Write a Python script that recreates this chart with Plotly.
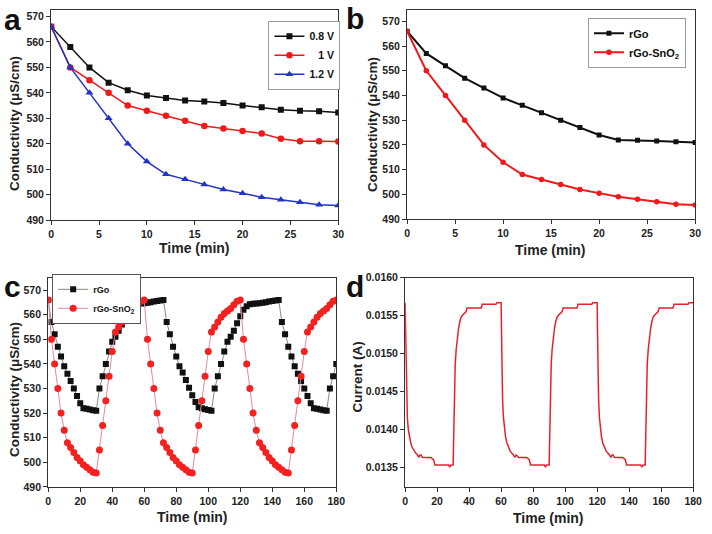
import plotly.graph_objects as go

FONT = "Arial, Liberation Sans, sans-serif"
W, H = 712, 534

# ---------------- data ----------------
# panel a
time_a = [0, 2, 4, 6, 8, 10, 12, 14, 16, 18, 20, 22, 24, 26, 28, 30]
cond_08v = [566, 558, 550, 544, 541, 539, 538, 537, 536.6, 536, 535, 534.3, 533.4, 533, 532.8, 532.3]
cond_1v = [566, 550, 545, 540, 535, 533, 531, 529, 527, 526, 525, 524, 522, 521, 521, 520.9]
cond_12v = [566, 550, 540, 530, 520, 513, 508, 506, 504, 502, 500.5, 499, 498, 497, 496, 495.7]
series_a_names = ["0.8 V", "\u00a0\u00a0\u00a01 V", "1.2 V"]

# panel b
time_b = [0, 2, 4, 6, 8, 10, 12, 14, 16, 18, 20, 22, 24, 26, 28, 30]
cond_rgo_b = [566, 557, 552, 547, 543, 539, 536, 533, 530, 527, 524, 522, 521.9, 521.6, 521.3, 521]
cond_sno2_b = [566, 550, 540, 530, 520, 513, 508, 506, 504, 502, 500.5, 499, 498, 497, 496, 495.7]

# panel c (every 2 min, 0..180)
time_c = list(range(0, 182, 2))
cond_rgo_c = [
    566, 557, 552, 547, 543, 539, 536, 533, 530, 527, 524, 522, 521.8, 521.5, 521.2, 521,
    530, 535, 540, 545, 549, 551, 553.5, 556, 558.5, 560.5, 562, 563, 564, 564.5, 564.6, 564.8, 565, 565.3, 565.6, 565.8, 566,
    557, 552, 547, 543, 539, 536.5, 533.5, 530.3, 527.3, 524.5, 522.4, 522, 521.6, 521.3, 521,
    530, 535, 540, 545, 549, 551, 553.5, 556.5, 559.4, 562, 563.4, 564.2, 564.4, 564.5, 564.6, 564.8, 565, 565.3, 565.6, 565.8, 566,
    557, 552, 547, 543, 539, 536, 533, 530, 527, 524, 522, 521.8, 521.5, 521.2, 521,
    530, 535, 540,
]
cond_sno2_c = [
    566, 550, 540, 530, 520, 513, 508, 506, 504, 502, 500.5, 499, 498, 497, 496, 495.7,
    505, 515, 525, 535, 545, 553, 555, 557, 559, 560.5, 561.5, 562.5, 564, 565.5, 566,
    550, 540, 530, 520, 513, 508, 506, 504, 502, 500.5, 499, 498, 497, 496, 495.7,
    505, 515, 525, 535, 545, 553, 555, 557, 559, 560.5, 561.5, 562.5, 564, 565.5, 566,
    550, 540, 530, 520, 513, 508, 506, 504, 502, 500.5, 499, 498, 497, 496, 495.7,
    505, 515, 525, 535, 545, 553, 555, 557, 559, 560.5, 561.5, 562.5, 564, 565.5, 566,
]

# panel d (current vs time, three cycles)
time_d1 = [0, 0.25, 0.5, 0.9, 1.4, 2.0, 2.7, 3.5, 4.5, 5.5, 6.5, 7.5, 8.6, 9.3, 10.0, 10.8, 16.2, 17.0,
           17.8, 18.6, 27.2, 27.9, 28.7, 30.0, 30.4, 30.8, 31.3, 31.9, 32.6, 33.4, 34.2, 35.0, 36.0,
           37.0, 38.0, 38.8, 47.5, 48.2, 56.8, 57.3, 60.0]
curr_d1 = [0.01567, 0.01530, 0.01480, 0.01440, 0.01415, 0.01400, 0.01390, 0.01382, 0.01376, 0.01372,
           0.01369, 0.01367, 0.01363, 0.01366, 0.01366, 0.01363, 0.01363, 0.01361, 0.01360, 0.01353,
           0.01353, 0.01350, 0.01353, 0.01353, 0.01400, 0.01450, 0.01485, 0.01505, 0.01520, 0.01533,
           0.01542, 0.01548, 0.01551, 0.01553, 0.01555, 0.01560, 0.01560, 0.01565, 0.01565, 0.01567,
           0.01567]
time_d2 = [60.25, 60.5, 60.9, 61.4, 62.0, 62.7, 63.5, 64.5, 65.5, 66.5, 67.5, 68.6, 69.3, 70.0, 70.8,
           76.0, 76.8, 77.6, 78.4, 87.0, 87.7, 88.5, 90.0, 90.4, 90.8, 91.3, 91.9, 92.6, 93.4, 94.2,
           95.0, 96.0, 97.0, 98.0, 98.8, 107.4, 108.1, 116.7, 117.2, 120.0]
curr_d2 = [0.01530, 0.01480, 0.01440, 0.01417, 0.01402, 0.01391, 0.01383, 0.01376, 0.01372, 0.01369,
           0.01367, 0.01363, 0.01366, 0.01365, 0.01363, 0.01363, 0.01361, 0.01360, 0.01353, 0.01353,
           0.01350, 0.01353, 0.01353, 0.01405, 0.01455, 0.01487, 0.01506, 0.01521, 0.01534, 0.01543,
           0.01548, 0.01551, 0.01553, 0.01555, 0.01560, 0.01560, 0.01565, 0.01565, 0.01567, 0.01567]
time_d3 = [120.25, 120.5, 120.9, 121.4, 122.0, 122.7, 123.5, 124.5, 125.5, 126.5, 127.5, 128.6, 129.3,
           130.0, 130.8, 136.0, 136.8, 137.6, 138.4, 147.2, 147.9, 148.7, 150.0, 150.4, 150.8, 151.3,
           151.9, 152.6, 153.4, 154.2, 155.0, 156.0, 157.0, 158.0, 158.8, 167.4, 168.1, 176.8, 177.3,
           180.0]
curr_d3 = [0.01528, 0.01478, 0.01440, 0.01416, 0.01401, 0.01390, 0.01382, 0.01376, 0.01372, 0.01369,
           0.01367, 0.01363, 0.01366, 0.01366, 0.01363, 0.01363, 0.01361, 0.01360, 0.01353, 0.01353,
           0.01350, 0.01353, 0.01353, 0.01400, 0.01452, 0.01486, 0.01505, 0.01520, 0.01533, 0.01542,
           0.01548, 0.01551, 0.01553, 0.01555, 0.01560, 0.01560, 0.01565, 0.01565, 0.01567, 0.01567]

cond_ticks = [490, 500, 510, 520, 530, 540, 550, 560, 570]
curr_ticks = [0.0135, 0.0140, 0.0145, 0.0150, 0.0155, 0.0160]

# ---------------- figure ----------------
def px_x(p):
    return p / W

def px_y(p):
    return 1 - p / H

fig = go.Figure()

# panel a
fig.add_trace(go.Scatter(x=time_a, y=cond_08v, name=series_a_names[0], mode="lines+markers",
                         line=dict(color="#111111", width=1.5),
                         marker=dict(symbol="square", size=6, color="#111111"),
                         xaxis="x", yaxis="y", legend="legend"))
fig.add_trace(go.Scatter(x=time_a, y=cond_1v, name=series_a_names[1], mode="lines+markers",
                         line=dict(color="#f01818", width=1.5),
                         marker=dict(symbol="circle", size=6.5, color="#f01818"),
                         xaxis="x", yaxis="y", legend="legend"))
fig.add_trace(go.Scatter(x=time_a, y=cond_12v, name=series_a_names[2], mode="lines+markers",
                         line=dict(color="#2233cc", width=1.5),
                         marker=dict(symbol="triangle-up", size=7, color="#2233cc"),
                         xaxis="x", yaxis="y", legend="legend"))

# panel b
fig.add_trace(go.Scatter(x=time_b, y=cond_rgo_b, name="rGo", mode="lines+markers",
                         line=dict(color="#111111", width=2),
                         marker=dict(symbol="square", size=5, color="#111111"),
                         xaxis="x2", yaxis="y2", legend="legend2"))
fig.add_trace(go.Scatter(x=time_b, y=cond_sno2_b, name="rGo-SnO<sub>2</sub>", mode="lines+markers",
                         line=dict(color="#f01818", width=2),
                         marker=dict(symbol="circle", size=5.5, color="#f01818"),
                         xaxis="x2", yaxis="y2", legend="legend2"))

# panel c
fig.add_trace(go.Scatter(x=time_c, y=cond_rgo_c, name="rGo", mode="lines+markers",
                         line=dict(color="#8a8a8a", width=1),
                         marker=dict(symbol="square", size=6, color="#111111"),
                         xaxis="x3", yaxis="y3", legend="legend3"))
fig.add_trace(go.Scatter(x=time_c, y=cond_sno2_c, name="rGo-SnO<sub>2</sub>", mode="lines+markers",
                         line=dict(color="#e08aa0", width=1),
                         marker=dict(symbol="circle", size=7, color="#f52020"),
                         xaxis="x3", yaxis="y3", legend="legend3"))

# panel d
fig.add_trace(go.Scatter(x=time_d1 + time_d2 + time_d3, y=curr_d1 + curr_d2 + curr_d3,
                         mode="lines", line=dict(color="#e8202a", width=1.5),
                         showlegend=False, xaxis="x4", yaxis="y4"))

tickfont = dict(family=FONT, size=10.5, color="#222222", weight="bold")
base_axis = dict(showline=True, linecolor="#333333", linewidth=1.2, mirror=True,
                 ticks="outside", ticklen=4, tickwidth=1, tickcolor="#333333",
                 showgrid=False, zeroline=False, tickfont=tickfont)

# domains from pixel frames
dom = {
    "a": ([49, 341], [4, 219]),
    "b": ([411, 704], [4, 218]),
    "c": ([46, 339], [278, 492]),
    "d": ([409, 702], [278, 492]),
}

def xdom(k):
    return [px_x(dom[k][0][0]), px_x(dom[k][0][1])]

def ydom(k):
    return [px_y(dom[k][1][1]), px_y(dom[k][1][0])]

legend_common = dict(xanchor="left", yanchor="top", bordercolor="#9a9a9a", borderwidth=1,
                     bgcolor="white", itemwidth=30, tracegroupgap=0)

fig.update_layout(
    width=W, height=H,
    margin=dict(l=0, r=0, t=0, b=0),
    paper_bgcolor="white", plot_bgcolor="white",
    font=dict(family=FONT),
    xaxis=dict(base_axis, domain=xdom("a"), range=[0, 30], dtick=5, anchor="y"),
    yaxis=dict(base_axis, domain=ydom("a"), range=[490, 572.6], tickvals=cond_ticks, anchor="x"),
    xaxis2=dict(base_axis, domain=xdom("b"), range=[0, 30], dtick=5, anchor="y2"),
    yaxis2=dict(base_axis, domain=ydom("b"), range=[490, 574.6], tickvals=cond_ticks, anchor="x2"),
    xaxis3=dict(base_axis, domain=xdom("c"), range=[0, 180], dtick=20, anchor="y3"),
    yaxis3=dict(base_axis, domain=ydom("c"), range=[490, 575], tickvals=cond_ticks, anchor="x3"),
    xaxis4=dict(base_axis, domain=xdom("d"), range=[0, 180], dtick=20, anchor="y4"),
    yaxis4=dict(base_axis, domain=ydom("d"), range=[0.01324, 0.0160], tickvals=curr_ticks,
                tickformat=".4f", anchor="x4"),
    legend=dict(legend_common, x=px_x(270), y=px_y(15),
                font=dict(family=FONT, size=10.5, color="#111", weight="bold")),
    legend2=dict(legend_common, x=px_x(595), y=px_y(12),
                 font=dict(family=FONT, size=11, color="#111", weight="bold")),
    legend3=dict(legend_common, x=px_x(50), y=px_y(274), bordercolor="#555",
                 font=dict(family=FONT, size=9, color="#111", weight="bold")),
)

ann = []
title_font = dict(family=FONT, size=13.5, color="#222222", weight="bold")
# y titles
for cx, cy in [(12, 120), (376, 121), (11, 392)]:
    ann.append(dict(text="Conductivity (μS/cm)", x=px_x(cx), y=px_y(cy), xref="paper", yref="paper",
                    showarrow=False, textangle=-90, font=title_font, xanchor="center", yanchor="middle"))
ann.append(dict(text="Current (A)", x=px_x(361), y=px_y(379), xref="paper", yref="paper",
                showarrow=False, textangle=-90, font=title_font, xanchor="center", yanchor="middle"))
# x titles
for cx, cy in [(195, 248), (557, 250), (193, 523), (555, 524)]:
    ann.append(dict(text="Time (min)", x=px_x(cx), y=px_y(cy), xref="paper", yref="paper",
                    showarrow=False, font=dict(title_font, size=14), xanchor="center", yanchor="middle"))
# panel letters
for letter, cx, cy in [("a", 10, 14), ("b", 358, 13), ("c", 10, 287), ("d", 358, 287)]:
    ann.append(dict(text=letter, x=px_x(cx), y=px_y(cy), xref="paper", yref="paper",
                    showarrow=False, font=dict(family=FONT, size=30, color="#111111", weight="bold"),
                    xanchor="center", yanchor="middle"))
fig.update_layout(annotations=ann)

fig.write_html("out.html")
